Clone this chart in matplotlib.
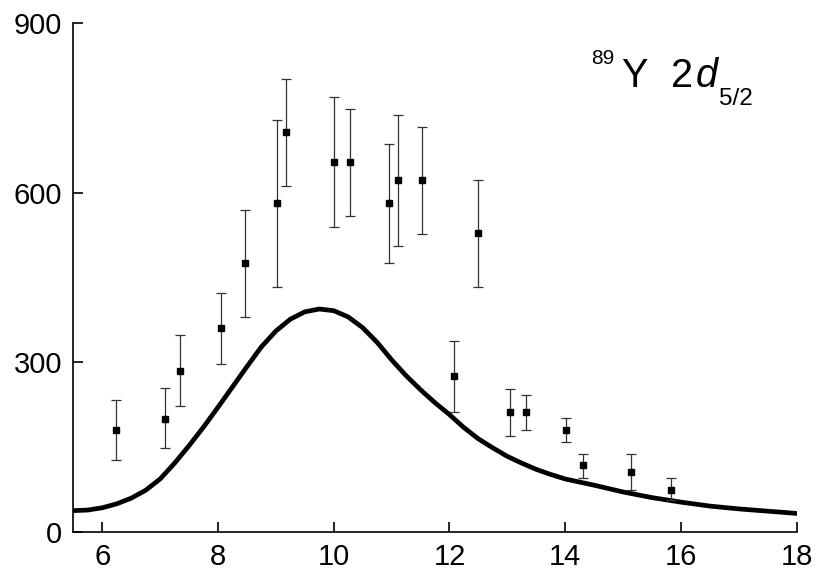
import matplotlib
matplotlib.use("Agg")
import matplotlib.pyplot as plt

plt.rcParams['font.family'] = ['Liberation Sans', 'DejaVu Sans']

# punkty pomiarowe
x_exp = [6.24, 7.08, 7.35, 8.06, 8.47, 9.02, 9.17, 10.0, 10.28, 10.96,
         11.11, 11.52, 12.08, 12.49, 13.05, 13.33, 14.02, 14.30, 15.13, 15.83]
y_exp = [180, 200, 285, 360, 476, 581, 707, 654, 654, 581,
         623, 623, 275, 528, 211, 211, 180, 117, 106, 74]
err_lo = [53, 52, 63, 64, 96, 148, 95, 115, 95, 106,
          117, 96, 64, 95, 42, 32, 21, 22, 32, 18]
err_hi = [52, 54, 63, 62, 94, 147, 94, 115, 94, 106,
          115, 94, 63, 95, 42, 31, 21, 20, 31, 21]

# krzywa teoretyczna
x_th = [5.5, 5.75, 6.0, 6.25, 6.5, 6.75, 7.0, 7.25, 7.5, 7.75,
        8.0, 8.25, 8.5, 8.75, 9.0, 9.25, 9.5, 9.75, 10.0, 10.25,
        10.5, 10.75, 11.0, 11.25, 11.5, 11.75, 12.0, 12.25, 12.5, 12.75,
        13.0, 13.25, 13.5, 13.75, 14.0, 14.5, 15.0, 15.5, 16.0, 16.5,
        17.0, 17.5, 18.0]
y_th = [37, 38, 42, 49, 59, 73, 93, 121, 152, 185,
        220, 256, 292, 327, 355, 376, 389, 394, 391, 380,
        361, 335, 304, 276, 251, 228, 207, 184, 164, 148,
        133, 121, 110, 101, 93, 82, 70, 60, 52, 45,
        40, 36, 32]

fig = plt.figure(figsize=(8.2, 5.72), dpi=100)
ax = fig.add_axes([0.0894, 0.0708, 0.8822, 0.8885])

ax.plot(x_th, y_th, color="black", lw=3.4, solid_capstyle="round",
        solid_joinstyle="round")
ax.errorbar(x_exp, y_exp, yerr=[err_lo, err_hi], fmt="s", color="black",
            ms=5, ecolor="#333333", elinewidth=0.9, capsize=3.6, capthick=0.9)

ax.set_xlim(5.5, 18)
ax.set_ylim(0, 900)
ax.set_xticks([6, 8, 10, 12, 14, 16, 18])
ax.set_yticks([0, 300, 600, 900])
for s in ["top", "right"]:
    ax.spines[s].set_visible(False)
for s in ["left", "bottom"]:
    ax.spines[s].set_linewidth(1.2)
ax.tick_params(direction="in", length=7, width=1.2, labelsize=21)
ax.tick_params(axis="x", pad=8)
ax.tick_params(axis="y", pad=8)

# napis 89Y 2d5/2
W, H = 820, 572
fig.text(591 / W, 1 - 64 / H, "89", fontsize=15, va="baseline")
fig.text(621 / W, 1 - 87 / H, "Y", fontsize=28.5, va="baseline")
fig.text(671 / W, 1 - 87 / H, "2", fontsize=28.5, va="baseline")
fig.text(696 / W, 1 - 87 / H, "d", fontsize=28.5, va="baseline", style="italic")
fig.text(719 / W, 1 - 105 / H, "5/2", fontsize=17.5, va="baseline")

fig.savefig("out.png", dpi=100)
